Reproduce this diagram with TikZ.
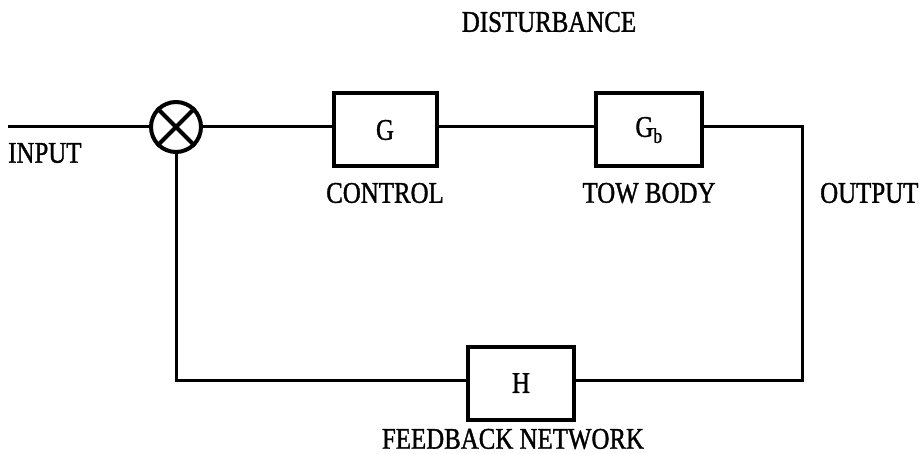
\documentclass[tikz,border=0pt]{standalone}
\usepackage{fontspec}
\setmainfont{Liberation Serif}[FakeStretch=0.83,FakeBold=1.2]
\begin{document}
\begin{tikzpicture}[x=1pt,y=-1pt,
  blk/.style={draw, line width=4pt, minimum width=103pt, minimum height=73pt, inner sep=0pt, font=\fontsize{30}{34}\selectfont},
  sumc/.style={draw, circle, line width=4pt, minimum size=50pt, inner sep=0pt},
  wire/.style={line width=3pt},
  lbl/.style={font=\fontsize{30}{34}\selectfont, inner sep=0pt}]
\useasboundingbox (0,0) rectangle (923,454);
\node[sumc] (s) at (176,127) {};
\draw[line width=4pt] (s.45) -- (s.225) (s.135) -- (s.-45);
\node[blk] (g) at (385,130) {G};
\node[blk, minimum width=106pt] (gb) at (649,130) {G\textsubscript{b}};
\node[blk, minimum width=106pt] (h) at (521,383) {H};
\coordinate (in) at (8,127);
\coordinate (c1) at (802,127);
\coordinate (c2) at (802,380);
\draw[wire] (in) -- (s.west);
\draw[wire] (s.east) -- (s.east -| g.west);
\draw[wire] (g.east |- s.east) -- (gb.west |- s.east);
\draw[wire] (gb.east |- c1) -- (c1) -- (c2) -- (h.east |- c2);
\draw[wire] (h.west |- c2) -- (s.south |- c2) -- (s.south);
\node[lbl, anchor=west] (lin) at (8,153) {INPUT};
\node[lbl] (lc) at (385,193) {CONTROL};
\node[lbl] (lt) at (649,193) {TOW BODY};
\node[lbl, anchor=west] (lo) at (820,193) {OUTPUT};
\node[lbl] (lf) at (513,439) {FEEDBACK NETWORK};
\node[lbl] (ld) at (549,22) {DISTURBANCE};
\end{tikzpicture}
\end{document}
